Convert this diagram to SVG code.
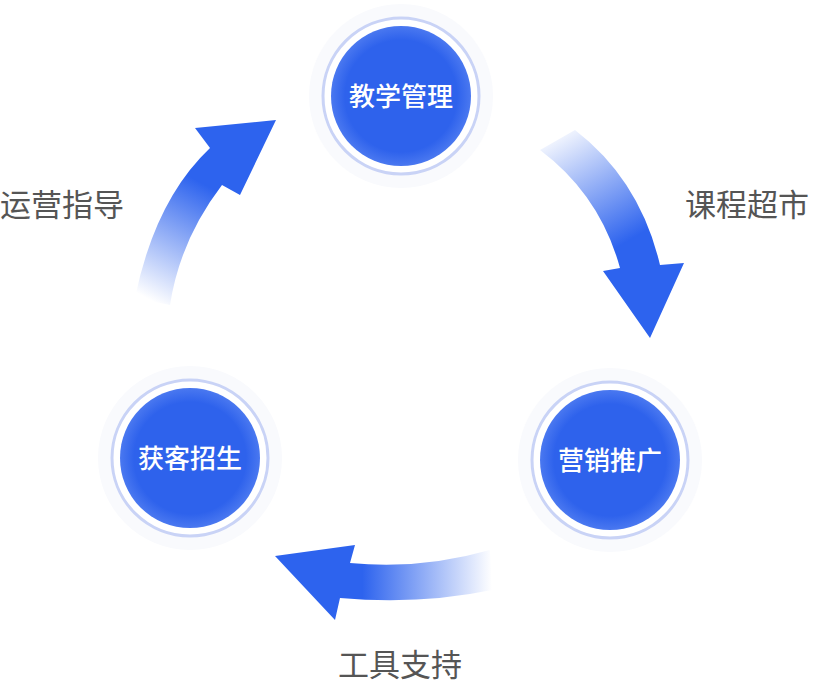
<svg xmlns="http://www.w3.org/2000/svg" width="814" height="686" viewBox="0 0 814 686">
<style>
.lbl{font-family:"Noto Sans CJK SC","Liberation Sans",sans-serif;font-size:31px;fill:#555;}
.nt{font-family:"Noto Sans CJK SC","Liberation Sans",sans-serif;font-size:26px;fill:#fff;font-weight:500;text-anchor:middle;}
.halo{fill:#f9fafd;}
.ring{fill:#fff;stroke:#c9d3f6;stroke-width:3;}
.core{fill:url(#cg);}
</style>
<defs>
<radialGradient id="cg"><stop offset="0.8" stop-color="#2e62ec"/><stop offset="1" stop-color="#4a78f0"/></radialGradient>
<linearGradient id="gr" gradientUnits="userSpaceOnUse" x1="545" y1="135" x2="640" y2="300"><stop offset="0" stop-color="#2d63ee" stop-opacity="0"/><stop offset="0.7" stop-color="#2d63ee"/></linearGradient>
<linearGradient id="gl" gradientUnits="userSpaceOnUse" x1="150" y1="300" x2="230" y2="150"><stop offset="0" stop-color="#2d63ee" stop-opacity="0"/><stop offset="0.75" stop-color="#2d63ee"/></linearGradient>
<linearGradient id="gb" gradientUnits="userSpaceOnUse" x1="492" y1="570" x2="330" y2="570"><stop offset="0" stop-color="#2d63ee" stop-opacity="0"/><stop offset="0.8" stop-color="#2d63ee"/></linearGradient>
</defs>
<g id="connectors">
<path d="M540,150 Q600,195 620,268 L603,271 L650,338 L684,263 L660,265 Q640,180 575,130 Z" fill="url(#gr)"/>
<path d="M135,298 L170,305 Q180,240 222,185 L240,195 L276,120 L195,128 L210,148 Q155,200 135,298 Z" fill="url(#gl)"/>
<path d="M490,550 Q420,570 350,563 L355,545 L275,556 L335,620 L340,598 Q420,605 492,590 Z" fill="url(#gb)"/>
</g>
<g id="n1"><circle class="halo" cx="401" cy="96" r="92"/><circle class="ring" cx="401" cy="96" r="78"/><circle class="core" cx="401" cy="96" r="70"/><text class="nt" x="401" y="106">教学管理</text></g>
<g id="n2"><circle class="halo" cx="610" cy="460" r="92"/><circle class="ring" cx="610" cy="460" r="78"/><circle class="core" cx="610" cy="460" r="70"/><text class="nt" x="610" y="470">营销推广</text></g>
<g id="n3"><circle class="halo" cx="190" cy="458" r="92"/><circle class="ring" cx="190" cy="458" r="78"/><circle class="core" cx="190" cy="458" r="70"/><text class="nt" x="190" y="468">获客招生</text></g>
<g id="labels">
<text class="lbl" x="0" y="216">运营指导</text>
<text class="lbl" x="685" y="216">课程超市</text>
<text class="lbl" x="338" y="676">工具支持</text>
</g>
</svg>
